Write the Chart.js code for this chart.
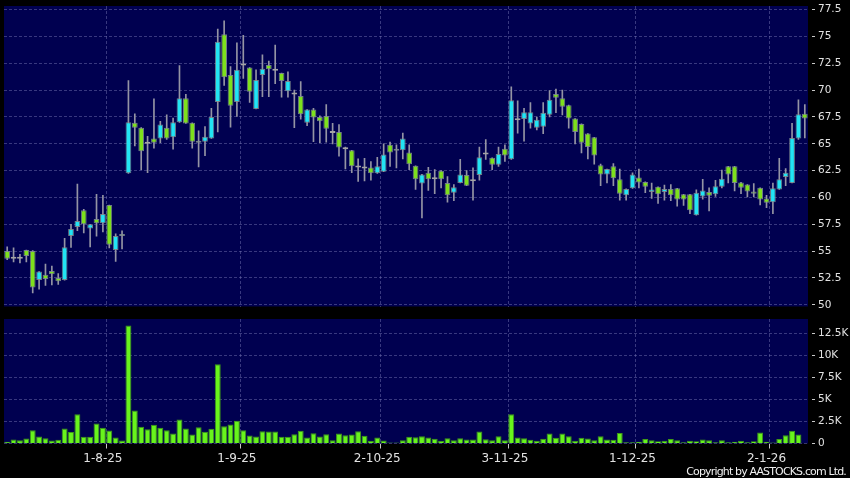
<!DOCTYPE html>
<html>
<head>
<meta charset="utf-8">
<script src="https://cdn.jsdelivr.net/npm/chart.js@4.4.1/dist/chart.umd.min.js"></script>
<style>
  html, body { margin: 0; padding: 0; background: #000; }
  body { width: 850px; height: 478px; position: relative; overflow: hidden; }
  #pricebox { position: absolute; left: 0; top: -14px; width: 850px; height: 340px; }
  #volbox { position: absolute; left: 0; top: 299px; width: 850px; height: 179px; }
  #copy { position: absolute; right: 4px; top: 466px; color: #f0f0f0; font: 11px 'DejaVu Sans'; line-height: 11px; letter-spacing: -0.85px; white-space: nowrap; }
</style>
</head>
<body>
<div id="pricebox"><canvas id="priceChart"></canvas></div>
<div id="volbox"><canvas id="volChart"></canvas></div>
<div id="copy">Copyright by AASTOCKS.com Ltd.</div>
<script>
// trading days (d-m-yy)
const dates = [
  '11-7-25','14-7-25','15-7-25','16-7-25','17-7-25','18-7-25','21-7-25','22-7-25','23-7-25','24-7-25','25-7-25','28-7-25','29-7-25','30-7-25','31-7-25',
  '1-8-25','4-8-25','5-8-25','6-8-25','7-8-25','8-8-25','11-8-25','12-8-25','13-8-25','14-8-25','15-8-25','18-8-25','19-8-25','20-8-25','21-8-25','22-8-25','25-8-25','26-8-25','27-8-25','28-8-25','29-8-25',
  '1-9-25','2-9-25','3-9-25','4-9-25','5-9-25','8-9-25','9-9-25','10-9-25','11-9-25','12-9-25','15-9-25','16-9-25','17-9-25','18-9-25','19-9-25','22-9-25','23-9-25','24-9-25','25-9-25','26-9-25','29-9-25','30-9-25',
  '2-10-25','3-10-25','6-10-25','8-10-25','9-10-25','10-10-25','13-10-25','14-10-25','15-10-25','16-10-25','17-10-25','20-10-25','21-10-25','22-10-25','23-10-25','24-10-25','27-10-25','28-10-25','30-10-25','31-10-25',
  '3-11-25','4-11-25','5-11-25','6-11-25','7-11-25','10-11-25','11-11-25','12-11-25','13-11-25','14-11-25','17-11-25','18-11-25','19-11-25','20-11-25','21-11-25','24-11-25','25-11-25','26-11-25','27-11-25','28-11-25',
  '1-12-25','2-12-25','3-12-25','4-12-25','5-12-25','8-12-25','9-12-25','10-12-25','11-12-25','12-12-25','15-12-25','16-12-25','17-12-25','18-12-25','19-12-25','22-12-25','23-12-25','24-12-25','29-12-25','30-12-25','31-12-25',
  '2-1-26','5-1-26','6-1-26','7-1-26','8-1-26','9-1-26','12-1-26'
];

const open = [
  55.0, 54.3, 54.3, 55.1, 55.0, 52.3, 52.8, 53.15, 52.5, 52.3,
  56.4, 57.25, 58.8, 57.1, 58.0, 57.6, 59.3, 55.1, 56.4, 62.25,
  66.95, 66.5, 65.0, 65.5, 65.5, 66.5, 65.6, 67.0, 69.25, 66.95,
  65.1, 65.2, 65.5, 68.9, 75.2, 71.4, 68.9, 72.3, 72.1, 68.25,
  71.4, 72.35, 71.8, 71.6, 69.9, 69.6, 69.45, 66.95, 68.2, 67.5,
  67.6, 66.0, 66.1, 64.5, 64.4, 62.8, 62.7, 62.8, 62.25, 62.4,
  64.9, 64.35, 64.4, 64.2, 62.95, 61.3, 62.3, 61.7, 62.5, 61.35,
  60.45, 61.35, 62.1, 61.5, 62.1, 64.0, 63.7, 63.05, 64.55, 63.55,
  67.2, 67.3, 66.9, 66.5, 66.6, 67.7, 69.65, 69.25, 68.6, 67.35,
  66.85, 65.95, 65.6, 63.0, 62.15, 62.9, 61.7, 60.2, 60.85, 61.85,
  61.45, 60.5, 61.0, 60.5, 60.8, 60.85, 60.3, 60.3, 58.35, 60.1,
  60.5, 60.3, 61.0, 62.9, 62.9, 61.4, 61.2, 60.55, 60.9, 59.9,
  59.55, 60.75, 61.9, 61.35, 65.5, 67.8
];
const high = [
  55.4, 55.3, 54.7, 55.1, 55.05, 53.1, 53.8, 53.6, 52.9, 56.2,
  57.5, 61.25, 58.9, 57.5, 60.3, 60.2, 59.3, 56.6, 56.9, 70.9,
  67.8, 66.5, 65.7, 69.2, 67.1, 67.7, 67.4, 72.3, 69.6, 66.95,
  66.2, 66.6, 68.3, 75.7, 76.45, 72.2, 74.4, 75.1, 72.1, 71.9,
  73.3, 72.7, 74.2, 71.6, 71.7, 70.0, 70.8, 68.2, 68.3, 67.6,
  68.65, 66.9, 66.8, 64.7, 64.4, 63.6, 63.65, 63.35, 63.75, 65.0,
  65.15, 64.9, 66.0, 64.9, 62.95, 62.15, 62.8, 62.6, 62.5, 61.95,
  61.2, 63.55, 62.5, 62.75, 64.7, 65.4, 63.7, 64.7, 64.9, 70.3,
  69.0, 68.3, 68.85, 67.5, 68.85, 69.95, 70.1, 70.0, 68.6, 67.35,
  66.85, 65.95, 65.6, 63.1, 62.65, 63.15, 62.65, 60.8, 62.3, 62.65,
  61.45, 61.35, 61.0, 61.15, 61.2, 60.85, 60.3, 60.3, 60.7, 61.7,
  60.9, 61.6, 62.55, 62.9, 62.9, 61.4, 61.2, 61.3, 60.9, 60.2,
  61.35, 63.65, 62.7, 66.9, 69.1, 68.65
];
const low = [
  54.2, 54.0, 53.9, 54.0, 51.1, 51.45, 51.8, 51.85, 51.9, 52.3,
  55.35, 56.9, 56.7, 55.4, 56.4, 56.8, 55.3, 54.05, 55.2, 62.25,
  64.8, 62.6, 62.3, 64.6, 65.1, 65.4, 64.5, 67.0, 66.9, 64.6,
  62.85, 63.9, 65.5, 66.1, 70.45, 66.55, 67.55, 71.1, 68.85, 68.25,
  69.4, 69.4, 70.6, 69.35, 69.35, 66.5, 67.3, 66.7, 65.2, 65.1,
  65.15, 65.0, 63.85, 62.65, 62.3, 61.5, 61.55, 61.6, 62.25, 62.4,
  62.9, 62.75, 63.6, 62.6, 60.75, 58.1, 60.65, 60.35, 60.9, 59.55,
  59.7, 61.35, 61.1, 59.75, 61.6, 63.55, 62.6, 62.9, 63.35, 63.55,
  66.0, 65.25, 66.45, 66.3, 65.95, 67.5, 67.9, 67.7, 66.45, 65.0,
  64.15, 63.6, 63.1, 61.1, 61.35, 61.1, 59.75, 59.75, 60.85, 60.9,
  60.45, 59.9, 59.45, 59.75, 59.7, 59.2, 59.25, 58.5, 58.35, 59.85,
  58.75, 60.1, 60.9, 61.35, 60.6, 60.35, 60.05, 60.05, 59.3, 59.05,
  58.5, 60.75, 61.1, 61.35, 65.4, 65.55
];
const close = [
  54.3, 54.3, 54.3, 54.55, 51.6, 53.1, 52.4, 52.85, 52.2, 55.35,
  57.05, 57.8, 57.5, 57.5, 57.6, 58.45, 55.6, 56.4, 56.6, 67.0,
  66.5, 64.3, 65.0, 65.1, 66.8, 65.5, 67.0, 69.25, 66.9, 65.2,
  65.2, 65.65, 67.5, 74.5, 71.2, 68.55, 71.9, 72.3, 69.85, 70.95,
  72.0, 71.95, 71.8, 70.85, 70.85, 69.6, 67.75, 68.2, 67.45, 67.1,
  66.4, 66.0, 64.65, 64.5, 62.9, 62.8, 62.7, 62.25, 62.9, 64.0,
  64.2, 64.45, 65.5, 63.1, 61.7, 62.15, 61.7, 61.7, 61.7, 60.2,
  60.95, 62.15, 61.1, 61.5, 63.75, 64.0, 63.05, 64.05, 63.9, 69.05,
  67.2, 67.95, 67.95, 67.25, 67.9, 69.1, 69.3, 68.45, 67.35, 66.1,
  65.1, 64.7, 63.9, 62.15, 62.65, 61.8, 60.35, 60.8, 62.15, 61.4,
  61.0, 60.75, 60.3, 60.8, 60.2, 59.8, 59.8, 58.8, 60.45, 60.65,
  60.15, 61.05, 61.75, 62.15, 61.35, 60.9, 60.55, 60.35, 59.8, 59.5,
  60.85, 61.7, 62.3, 65.55, 67.75, 67.35
];
const volume = [
  200, 450, 380, 570, 1500, 800, 600, 340, 420, 1700,
  1300, 3330, 760, 760, 2270, 1780, 1480, 680, 340, 13400,
  3750, 1900, 1630, 2120, 1780, 1500, 1140, 2730, 1700, 1020,
  1860, 1330, 1670, 9000, 1970, 2160, 2580, 1500, 900, 800,
  1400, 1360, 1360, 760, 760, 1060, 1440, 680, 1170, 800,
  1060, 380, 1140, 950, 1020, 1400, 870, 300, 680, 340,
  100, 100, 380, 760, 720, 830, 680, 530, 300, 600,
  380, 600, 450, 450, 1360, 490, 380, 830, 380, 3330,
  680, 600, 420, 300, 530, 1140, 640, 1140, 830, 300,
  640, 570, 380, 830, 450, 420, 1200, 150, 150, 200,
  500, 380, 260, 300, 500, 380, 150, 300, 260, 450,
  380, 150, 380, 150, 200, 300, 150, 260, 1250, 200,
  100, 500, 950, 1440, 1020, 50
];

const priceTicks = [50, 52.5, 55, 57.5, 60, 62.5, 65, 67.5, 70, 72.5, 75, 77.5];
const volumeTicks = [0, 2500, 5000, 7500, 10000, 12500];

const NAVY = '#000050';
const GRID = 'rgba(125,125,185,0.45)';
const NONE = 'rgba(0,0,0,0)';
const UP = '#22e4f4';
const DOWN = '#7ee01c';
const FLAT = '#a4a4a4';
const WICK = '#9494a4';
const VOL = '#68f41c';
const TXT = '#e2e2e2';

Chart.defaults.font.family = "'DejaVu Sans', sans-serif";
Chart.defaults.animation = false;

const monthOf = s => s.split('-')[1];
const isMonthStart = i => i > 0 && i < dates.length && monthOf(dates[i]) !== monthOf(dates[i - 1]);
const monthGrid = ctx => (typeof ctx.index === 'number' && isMonthStart(ctx.index - 1)) ? GRID : NONE;
const monthTick = ctx => (typeof ctx.index === 'number' && isMonthStart(ctx.index - 1)) ? '#c8c8c8' : NONE;

const candleColor = i => close[i] > open[i] ? UP : (close[i] < open[i] ? DOWN : FLAT);

const panelBg = {
  id: 'panelBg',
  beforeDraw(chart) {
    const { ctx, chartArea: a } = chart;
    ctx.save();
    ctx.fillStyle = NAVY;
    ctx.fillRect(a.left, a.top, a.right - a.left, a.bottom - a.top);
    ctx.restore();
  }
};

const yAxis = (ticksList, fmt) => ({
  position: 'right',
  afterFit: s => { s.width = 42; },
  afterBuildTicks: s => { s.ticks = ticksList.map(v => ({ value: v })); },
  border: { display: false, dash: [3, 2] },
  grid: { color: GRID, tickLength: 7, tickColor: '#c8c8c8', tickBorderDash: [0, 4, 3, 20] },
  ticks: { color: TXT, font: { size: 10.5 }, padding: 3, callback: fmt }
});

new Chart(document.getElementById('priceChart'), {
  type: 'bar',
  data: {
    labels: dates,
    datasets: [
      {
        label: 'body',
        data: open.map((o, i) => [o, close[i]]),
        backgroundColor: ctx => candleColor(ctx.dataIndex),
        borderColor: ctx => close[ctx.dataIndex] === open[ctx.dataIndex] ? FLAT : 'rgba(130,145,145,0.85)',
        borderWidth: 1,
        borderSkipped: false,
        minBarLength: 2,
        barPercentage: 0.9,
        categoryPercentage: 1,
        grouped: false,
        order: 0
      },
      {
        label: 'wick',
        data: low.map((l, i) => [l, high[i]]),
        backgroundColor: WICK,
        borderWidth: 0,
        barThickness: 1,
        grouped: false,
        order: 1
      }
    ]
  },
  options: {
    responsive: true,
    maintainAspectRatio: false,
    layout: { padding: { top: 20, bottom: 19.5, left: 4, right: 0 } },
    plugins: { legend: { display: false }, tooltip: { enabled: false } },
    scales: {
      x: {
        offset: true,
        afterFit: s => { s.height = 0; },
        border: { display: false, dash: [3, 2] },
        grid: { offset: true, color: monthGrid, drawTicks: false },
        ticks: { display: false, autoSkip: false }
      },
      y: Object.assign(yAxis(priceTicks, v => String(v)), { min: 49.84, max: 77.84 })
    }
  },
  plugins: [panelBg]
});

new Chart(document.getElementById('volChart'), {
  type: 'bar',
  data: {
    labels: dates,
    datasets: [{
      label: 'volume',
      data: volume,
      backgroundColor: VOL,
      borderColor: '#3e9a16',
      borderWidth: 1,
      barPercentage: 0.93,
      categoryPercentage: 1
    }]
  },
  options: {
    responsive: true,
    maintainAspectRatio: false,
    layout: { padding: { top: 20, bottom: 12.5, left: 4, right: 0 } },
    plugins: { legend: { display: false }, tooltip: { enabled: false } },
    scales: {
      x: {
        offset: true,
        afterFit: s => { s.height = 22; },
        border: { display: false, dash: [3, 2] },
        grid: { offset: true, color: monthGrid, tickColor: monthTick, tickLength: 5, tickBorderDash: [] },
        ticks: {
          autoSkip: false, maxRotation: 0, padding: 3, color: TXT, font: { size: 12 },
          callback: (v, i) => isMonthStart(i) ? dates[i] : ''
        }
      },
      y: Object.assign(yAxis(volumeTicks, v => v === 0 ? '0' : (v / 1000) + 'K'), { min: 0, max: 14150 })
    }
  },
  plugins: [panelBg]
});
</script>
</body>
</html>
